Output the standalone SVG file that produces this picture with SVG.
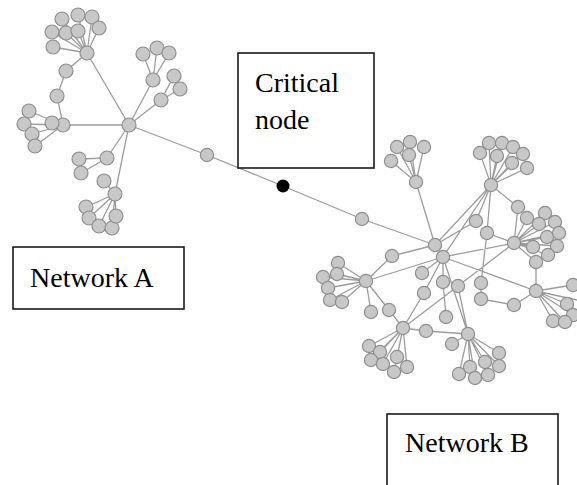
<svg xmlns="http://www.w3.org/2000/svg" width="577" height="485" viewBox="0 0 577 485">
<style>
.e{stroke:#9c9c9c;stroke-width:1.3;fill:none}
.n{fill:#c8c8c8;stroke:#8e8e8e;stroke-width:1.2}
.box{fill:#fff;stroke:#1a1a1a;stroke-width:1.6}
.t{font-family:"Liberation Serif","Times New Roman",serif;font-size:28px;fill:#000}
</style>
<defs>
<circle id="a" r="7" class="n"/>
<circle id="b" r="6.6" class="n"/>
</defs>
<rect width="577" height="485" fill="#fff"/>
<g id="connectors">
<path class="e" d="M129,125L87,53M129,125L63,125M129,125L153,80M129,125L161,100M129,125L107,158M129,125L115,194M129,125L207,155L283,186L362,219L435,245
M87,53L62,19M87,53L78,15M87,53L92,17M87,53L99,28M87,53L52,32M87,53L66,33M87,53L78,31M87,53L53,47M87,53L66,71L57,96L63,125
M63,125L29,111M63,125L52,123M63,125L24,124M63,125L32,134M63,125L35,146
M153,80L143,54M153,80L157,48M153,80L169,53M161,100L174,76M161,100L180,89
M107,158L79,159M107,158L81,173M115,194L104,181M115,194L86,207M115,194L89,218M115,194L99,226M115,194L112,228M115,194L116,216"/>
<path class="e" d="M435,245L416,182M435,245L392,256M435,245L443,257M435,245L476,221M435,245L491,185
M416,182L397,147M416,182L410,142M416,182L424,147M416,182L391,161M416,182L409,155
M491,185L480,153M491,185L489,143M491,185L502,143M491,185L513,147M491,185L497,156M491,185L523,154M491,185L512,163M491,185L527,168
M491,185L476,221M491,185L487,233M491,185L443,257M491,185L518,207L514,243
M514,243L527,218M514,243L539,224M514,243L545,213M514,243L555,222M514,243L547,237M514,243L559,233M514,243L557,246M514,243L548,255M514,243L533,247M514,243L536,262
M443,257L514,243M487,233L514,243M487,233L481,283L481,299L514,305L536,291M536,262L536,291M443,257L536,291
M536,291L567,304M536,291L553,321M536,291L565,322M536,291L573,285M536,291L573,315M536,291L577,300
M392,256L366,281M366,281L443,257M366,281L338,263M366,281L323,277M366,281L337,274M366,281L328,288M366,281L330,300M366,281L342,302
M366,281L371,312M366,281L389,310L403,328M403,328L426,331L468,334M403,328L424,293L443,257M443,257L422,273M443,257L443,282L446,317M443,257L468,334M403,328L458,286L514,243M458,286L468,334M452,344L468,334
M403,328L369,346M403,328L380,352M403,328L371,360M403,328L383,364M403,328L397,357M403,328L394,372M403,328L407,367
M468,334L499,353M468,334L485,362M468,334L470,367M468,334L459,374M468,334L475,378M468,334L488,375M468,334L499,366"/>
</g>
<g id="network-a-nodes">
<use href="#a" x="129" y="125"/><use href="#a" x="87" y="53"/><use href="#a" x="62" y="19"/><use href="#a" x="78" y="15"/><use href="#a" x="92" y="17"/><use href="#a" x="99" y="28"/><use href="#a" x="52" y="32"/><use href="#a" x="66" y="33"/><use href="#a" x="78" y="31"/><use href="#a" x="53" y="47"/>
<use href="#a" x="66" y="71"/><use href="#a" x="57" y="96"/><use href="#a" x="63" y="125"/><use href="#a" x="29" y="111"/><use href="#a" x="52" y="123"/><use href="#a" x="24" y="124"/><use href="#a" x="32" y="134"/><use href="#a" x="35" y="146"/>
<use href="#a" x="153" y="80"/><use href="#a" x="143" y="54"/><use href="#a" x="157" y="48"/><use href="#a" x="169" y="53"/><use href="#a" x="161" y="100"/><use href="#a" x="174" y="76"/><use href="#a" x="180" y="89"/>
<use href="#a" x="107" y="158"/><use href="#a" x="79" y="159"/><use href="#a" x="81" y="173"/><use href="#a" x="104" y="181"/><use href="#a" x="115" y="194"/><use href="#a" x="86" y="207"/><use href="#a" x="89" y="218"/><use href="#a" x="99" y="226"/><use href="#a" x="112" y="228"/><use href="#a" x="116" y="216"/>
<use href="#b" x="207" y="155"/>
</g>
<g id="critical-node"><circle cx="283" cy="186" r="6.5" fill="#000"/></g>
<g id="network-b-nodes">
<use href="#b" x="362" y="219"/><use href="#b" x="435" y="245"/><use href="#b" x="443" y="257"/><use href="#b" x="392" y="256"/>
<use href="#b" x="416" y="182"/><use href="#b" x="397" y="147"/><use href="#b" x="410" y="142"/><use href="#b" x="424" y="147"/><use href="#b" x="391" y="161"/><use href="#b" x="409" y="155"/>
<use href="#b" x="491" y="185"/><use href="#b" x="480" y="153"/><use href="#b" x="489" y="143"/><use href="#b" x="502" y="143"/><use href="#b" x="513" y="147"/><use href="#b" x="497" y="156"/><use href="#b" x="523" y="154"/><use href="#b" x="512" y="163"/><use href="#b" x="527" y="168"/>
<use href="#b" x="518" y="207"/><use href="#b" x="476" y="221"/><use href="#b" x="487" y="233"/><use href="#b" x="514" y="243"/>
<use href="#b" x="527" y="218"/><use href="#b" x="545" y="213"/><use href="#b" x="539" y="224"/><use href="#b" x="555" y="222"/><use href="#b" x="547" y="237"/><use href="#b" x="559" y="233"/><use href="#b" x="557" y="246"/><use href="#b" x="548" y="255"/><use href="#b" x="533" y="247"/><use href="#b" x="536" y="262"/>
<use href="#b" x="536" y="291"/><use href="#b" x="573" y="285"/><use href="#b" x="567" y="304"/><use href="#b" x="573" y="315"/><use href="#b" x="553" y="321"/><use href="#b" x="565" y="322"/>
<use href="#b" x="481" y="283"/><use href="#b" x="481" y="299"/><use href="#b" x="514" y="305"/><use href="#b" x="458" y="286"/><use href="#b" x="443" y="282"/><use href="#b" x="422" y="273"/><use href="#b" x="424" y="293"/><use href="#b" x="446" y="317"/><use href="#b" x="452" y="344"/><use href="#b" x="426" y="331"/>
<use href="#b" x="366" y="281"/><use href="#b" x="338" y="263"/><use href="#b" x="323" y="277"/><use href="#b" x="337" y="274"/><use href="#b" x="328" y="288"/><use href="#b" x="330" y="300"/><use href="#b" x="342" y="302"/><use href="#b" x="371" y="312"/><use href="#b" x="389" y="310"/>
<use href="#b" x="403" y="328"/><use href="#b" x="369" y="346"/><use href="#b" x="380" y="352"/><use href="#b" x="371" y="360"/><use href="#b" x="383" y="364"/><use href="#b" x="397" y="357"/><use href="#b" x="394" y="372"/><use href="#b" x="407" y="367"/>
<use href="#b" x="468" y="334"/><use href="#b" x="499" y="353"/><use href="#b" x="485" y="362"/><use href="#b" x="470" y="367"/><use href="#b" x="459" y="374"/><use href="#b" x="475" y="378"/><use href="#b" x="488" y="375"/><use href="#b" x="499" y="366"/>
</g>
<g id="label-critical"><rect class="box" x="238" y="53" width="136" height="115"/><text class="t" x="255" y="92">Critical</text><text class="t" x="255" y="129">node</text></g>
<g id="label-network-a"><rect class="box" x="13" y="247" width="171" height="62"/><text class="t" x="30" y="287">Network A</text></g>
<g id="label-network-b"><rect class="box" x="387" y="414" width="171" height="80"/><text class="t" x="405" y="452">Network B</text></g>
</svg>
